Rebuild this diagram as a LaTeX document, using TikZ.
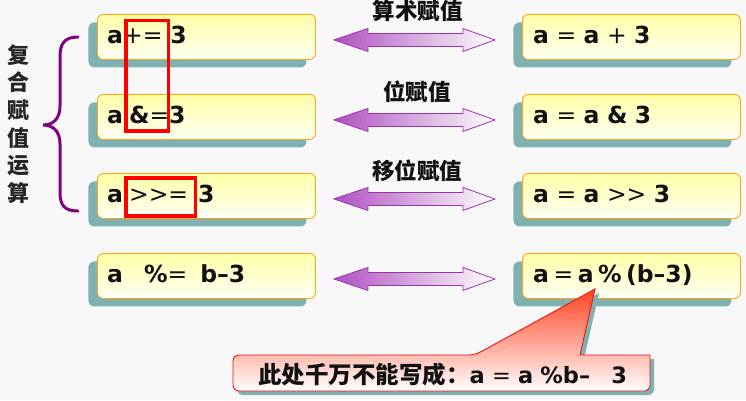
\documentclass[tikz,border=0pt]{standalone}
\usepackage{fontspec}
\newfontfamily\lat{DejaVu Sans}
\newfontfamily\cjk{Noto Sans CJK SC}
\usetikzlibrary{shadows,calc}
\definecolor{bg}{HTML}{F8F8F8}
\definecolor{shadowc}{HTML}{7FB1B1}
\definecolor{boxborder}{HTML}{FFA31A}
\definecolor{boxtop}{HTML}{FFFFA6}
\definecolor{boxbot}{HTML}{FFFFF5}
\definecolor{arrowpurple}{HTML}{B050C0}
\definecolor{arrowline}{HTML}{9933AA}
\definecolor{bracec}{HTML}{800080}
\definecolor{callred}{HTML}{FF4422}
\definecolor{callborder}{HTML}{EE1111}
\definecolor{ink}{HTML}{111111}
\begin{document}
\begin{tikzpicture}[x=1pt,y=-1pt,
  exprbox/.style={draw=boxborder, line width=0.9pt, rounded corners=6pt,
    top color=boxtop, bottom color=boxbot, minimum width=218pt, minimum height=45pt,
    anchor=north west, inner sep=0pt,
    general shadow={fill=shadowc, shadow xshift=-9pt, shadow yshift=-8pt}},
  etext/.style={anchor=base west, inner sep=0pt, text=ink, font=\lat\fontsize{23.5}{28}\selectfont},
  oplabel/.style={inner sep=0pt, text=ink, font=\cjk\bfseries\fontsize{22.5}{27}\selectfont},
  vlabel/.style={inner sep=0pt, align=center, text=black!85, font=\cjk\bfseries\fontsize{22}{27.6}\selectfont},
  redframe/.style={draw=red, line width=3.5pt},
  arrowshape/.style={draw=arrowline, line width=0.8pt, left color=arrowpurple,
    middle color=arrowpurple!20!white, right color=white},
  dbl/.pic={\path[arrowshape] (0,0) -- ++(34,-11.5) -- ++(0,5) -- ++(95,0) -- ++(0,-5)
     -- ++(32,11.5) -- ++(-32,11.5) -- ++(0,-5) -- ++(-95,0) -- ++(0,5) -- cycle;},
  calltext/.style={anchor=base west, inner sep=0pt, text=ink},
]
\useasboundingbox (0,0) rectangle (746,400);
\fill[bg] (0,0) rectangle (746,400);

% vertical label and brace
\node[vlabel] (vt) at (19,124) {复\\合\\赋\\值\\运\\算};
\draw[bracec, line width=3pt, line cap=round]
  (78,37) .. controls (64,37) and (60,44) .. (60,57) -- (60,106)
  .. controls (60,119) and (53,125) .. (43,125)
  .. controls (53,125) and (60,131) .. (60,144) -- (60,192)
  .. controls (60,205) and (64,211) .. (78,211);

% boxes
\foreach \i/\y in {1/14,2/94,3/173,4/253}{
  \node[exprbox] (L\i) at (97,\y) {};
  \node[exprbox] (R\i) at (522,\y) {};
}

% left texts
\node[etext] (tL1) at ($(L1.north west)+(10,29)$) {{\bfseries a}+=\hspace{8pt}{\bfseries 3}};
\node[etext] (tL2) at ($(L2.north west)+(10,29)$) {{\bfseries a}\hspace{6pt}{\bfseries\&}={\bfseries 3}};
\node[etext] (tL3) at ($(L3.north west)+(10,29)$) {{\bfseries a}\hspace{6pt}>\kern0pt>=\hspace{10pt}{\bfseries 3}};
\node[etext] (tL4) at ($(L4.north west)+(10,29)$) {{\bfseries a}\hspace{21pt}{\bfseries\%}=\hspace{13pt}{\bfseries b–3}};

% right texts
\node[etext] (tR1) at ($(R1.north west)+(11,29)$) {{\bfseries a} = {\bfseries a} + {\bfseries 3}};
\node[etext] (tR2) at ($(R2.north west)+(11,29)$) {{\bfseries a} = {\bfseries a} {\bfseries\&} {\bfseries 3}};
\node[etext] (tR3) at ($(R3.north west)+(11,29)$) {{\bfseries a} = {\bfseries a} >\kern0pt> {\bfseries 3}};
\node[etext] (tR4) at ($(R4.north west)+(11,29)$) {{\bfseries a}\hspace{4.5pt}=\hspace{4.5pt}{\bfseries a}\hspace{4.5pt}{\bfseries\%}\hspace{4.5pt}{\bfseries(b–3)}};

% red highlight frames
\draw[redframe] (126,20.5) rectangle (168.5,131);
\draw[redframe] (126,178) rectangle (195.5,216);

% double arrows and their labels
\foreach \i in {1,2,3,4}{
  \pic at ($(L\i.east)+(18,3)$) {dbl};
}
\node[oplabel] (op1) at ($(L1.east)+(102,-26)$) {算术赋值};
\node[oplabel] (op2) at ($(L2.east)+(101,-25)$) {位赋值};
\node[oplabel] (op3) at ($(L3.east)+(101.5,-25)$) {移位赋值};

% callout
\fill[shadowc, shift={(4,4)}] (233,373) [rounded corners=6pt] |- (475,355) [sharp corners] -- (595,289) -- (580,355) -- (650,355) [rounded corners=6pt] -- (650,391) -- (233,391) -- cycle;
\path[draw=callborder, line width=0.9pt, top color=callred, bottom color=white]
  (233,373) [rounded corners=6pt] |- (475,355) [sharp corners] -- (595,289) -- (580,355) -- (650,355) [rounded corners=6pt] -- (650,391) -- (233,391) -- cycle;
\node[calltext] (ct) at (258,383)
  {{\cjk\bfseries\fontsize{23.5}{28}\selectfont 此处千万不能写成：}{\lat\fontsize{22.5}{27}\selectfont{\bfseries a} = {\bfseries a} {\bfseries\%b–}\hspace{21pt}{\bfseries 3}}};
\end{tikzpicture}
\end{document}
